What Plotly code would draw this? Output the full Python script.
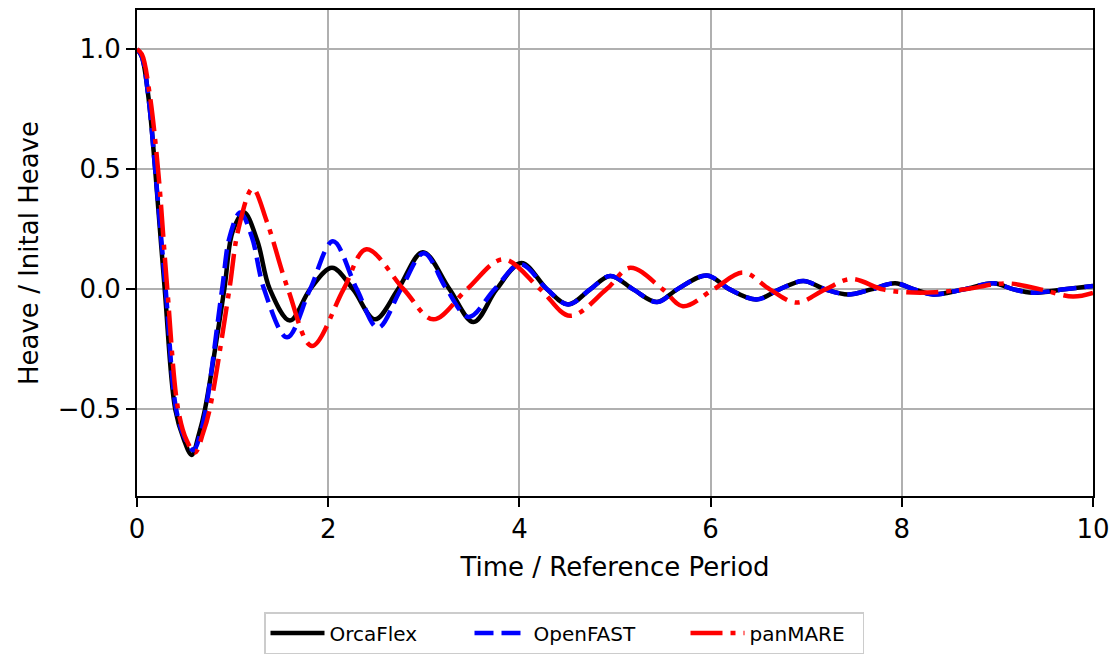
import plotly.graph_objects as go

# ---- data ----
t_orca = [0.0, 0.05, 0.12, 0.19, 0.29, 0.40, 0.49, 0.572, 0.65, 0.711, 0.913, 1.0, 1.12, 1.26, 1.39,
          1.60, 1.81, 2.04, 2.26, 2.49, 2.73, 2.99, 3.27, 3.52, 3.76, 4.02, 4.29, 4.51, 4.74, 4.95,
          5.19, 5.44, 5.65, 5.96, 6.20, 6.48, 6.72, 6.97, 7.20, 7.44, 7.68, 7.93, 8.13, 8.33, 8.65,
          8.96, 9.17, 9.37, 9.70, 10.0]
v_orca = [1.0, 0.97, 0.80, 0.50, 0.0, -0.50, -0.625, -0.69, -0.60, -0.50, 0.0, 0.24, 0.32, 0.20, 0.0,
          -0.13, 0.0, 0.09, 0.0, -0.125, 0.0, 0.155, 0.0, -0.136, 0.0, 0.11, 0.0, -0.063, 0.0, 0.056,
          0.0, -0.053, 0.0, 0.058, 0.0, -0.042, 0.0, 0.035, 0.0, -0.021, 0.0, 0.025, 0.0, -0.021, 0.0,
          0.025, 0.0, -0.014, 0.0, 0.014]

t_ofast = [0.0, 0.05, 0.12, 0.19, 0.30, 0.41, 0.50, 0.59, 0.67, 0.72, 0.89, 0.97, 1.08, 1.20, 1.33,
           1.57, 1.81, 2.05, 2.30, 2.52, 2.76, 3.00, 3.24, 3.47, 3.74, 4.01, 4.29, 4.51, 4.74, 4.95,
           5.19, 5.44, 5.65, 5.96, 6.20, 6.48, 6.72, 6.97, 7.20, 7.44, 7.68, 7.93, 8.13, 8.33, 8.65,
           8.96, 9.17, 9.37, 9.70, 10.0]
v_ofast = [1.0, 0.97, 0.80, 0.50, 0.0, -0.50, -0.62, -0.67, -0.59, -0.50, 0.0, 0.22, 0.32, 0.22, 0.0,
           -0.20, 0.0, 0.20, 0.0, -0.16, 0.0, 0.15, 0.0, -0.115, 0.0, 0.105, 0.0, -0.063, 0.0, 0.056,
           0.0, -0.053, 0.0, 0.058, 0.0, -0.042, 0.0, 0.035, 0.0, -0.021, 0.0, 0.025, 0.0, -0.021, 0.0,
           0.025, 0.0, -0.014, 0.0, 0.014]

t_pan = [0.0, 0.05, 0.13, 0.22, 0.317, 0.43, 0.52, 0.607, 0.69, 0.76, 0.966, 1.06, 1.21, 1.36, 1.58,
         1.83, 2.16, 2.40, 2.79, 3.10, 3.45, 3.83, 4.22, 4.53, 4.91, 5.16, 5.50, 5.71, 6.03, 6.34,
         6.62, 6.90, 7.20, 7.47, 7.80, 8.05, 8.35, 8.65, 9.10, 9.45, 9.79, 10.0]
v_pan = [1.0, 0.98, 0.82, 0.50, 0.0, -0.50, -0.63, -0.68, -0.60, -0.50, 0.0, 0.25, 0.42, 0.28, 0.0,
         -0.236, 0.0, 0.167, 0.0, -0.125, 0.0, 0.125, 0.0, -0.11, 0.0, 0.09, 0.0, -0.07, 0.0, 0.07,
         0.0, -0.055, 0.0, 0.043, 0.0, -0.012, -0.012, 0.0, 0.025, 0.0, -0.03, -0.015]

x_ticks = [0, 2, 4, 6, 8, 10]
y_ticks = [-0.5, 0.0, 0.5, 1.0]
y_tick_text = ["\u22120.5", "0.0", "0.5", "1.0"]

FONT = "DejaVu Sans"

fig = go.Figure()
fig.add_trace(go.Scatter(x=t_orca, y=v_orca, mode="lines", name="OrcaFlex", legendwidth=135,
                         line=dict(color="#000000", width=4.5, shape="spline")))
fig.add_trace(go.Scatter(x=t_ofast, y=v_ofast, mode="lines", name="OpenFAST", legendwidth=147,
                         line=dict(color="#0000ff", width=4.5, shape="spline", dash="19px,8px")))
fig.add_trace(go.Scatter(x=t_pan, y=v_pan, mode="lines", name="panMARE", legendwidth=108,
                         line=dict(color="#ff0000", width=4.5, shape="spline", dash="32px,8px,5px,8px")))

axis_common = dict(
    showline=True, linecolor="black", linewidth=2, mirror=True,
    ticks="outside", ticklen=9, tickwidth=2, tickcolor="black",
    showgrid=True, gridcolor="#b0b0b0", gridwidth=2, zeroline=False,
    tickfont=dict(family=FONT, size=26, color="black"),
    automargin=False,
)

fig.update_layout(
    width=1112, height=656,
    margin=dict(l=137, r=19, t=10, b=160),
    paper_bgcolor="white", plot_bgcolor="white",
    font=dict(family=FONT, color="black"),
    xaxis=dict(range=[0, 10], tickvals=x_ticks, ticktext=[str(v) for v in x_ticks],
               title=dict(text="Time / Reference Period", font=dict(family=FONT, size=26), standoff=15),
               **axis_common),
    yaxis=dict(range=[-0.861, 1.164], tickvals=y_ticks, ticktext=y_tick_text,
               title=dict(text="Heave / Inital Heave", font=dict(family=FONT, size=26), standoff=12),
               **axis_common),
    legend=dict(orientation="h", xref="container", yref="container",
                x=264 / 1112, xanchor="left", y=1 - 612 / 656, yanchor="top",
                bordercolor="#cccccc", borderwidth=1.5, bgcolor="white",
                font=dict(family=FONT, size=20, color="black"),
                itemwidth=54, traceorder="normal"),
    showlegend=True,
)

fig.write_html("out.html")
